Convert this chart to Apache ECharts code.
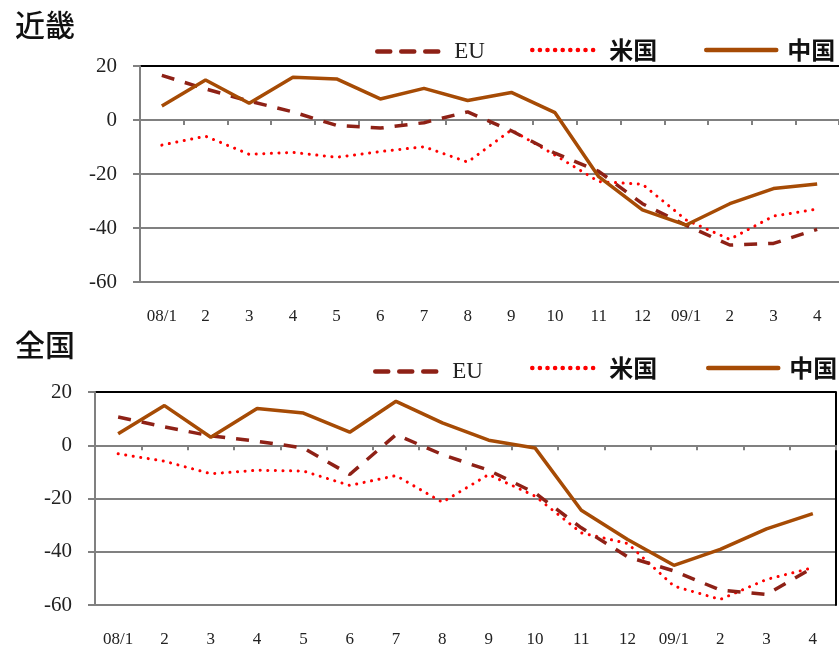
<!DOCTYPE html>
<html>
<head>
<meta charset="utf-8">
<script src="https://cdn.jsdelivr.net/npm/echarts@6/dist/echarts.min.js"></script>
<style>
  html, body { margin: 0; padding: 0; background: #fff; }
  #chart { width: 839px; height: 648px; }
</style>
</head>
<body>
<div id="chart"></div>
<script>
// 月（08/1 ～ 09/4）
const months = ["08/1", "2", "3", "4", "5", "6", "7", "8", "9", "10", "11", "12", "09/1", "2", "3", "4"];

// 近畿
const kinkiEU = [16.5, 11.5, 7, 3, -2, -3, -1, 3, -4, -12.3, -19, -31, -39, -46.3, -45.7, -40.5];
const kinkiUS = [-9.3, -6, -12.7, -12, -13.8, -11.7, -9.9, -15.6, -3.7, -13, -22.8, -23.8, -37, -44.2, -35.6, -33];
const kinkiCN = [5.2, 14.8, 6.2, 15.8, 15.2, 7.8, 11.7, 7.2, 10.2, 2.7, -21, -33.3, -38.9, -31, -25.4, -23.7];

// 全国
const zenkokuEU = [10.6, 6.9, 3.5, 1.5, -1, -11, 4, -3.5, -9.4, -17.9, -31, -41.9, -47.2, -54.4, -56, -46];
const zenkokuUS = [-3.2, -6, -10.7, -9.4, -9.7, -15.1, -11.4, -21.4, -11, -19.1, -32.9, -36.9, -52.9, -57.9, -50.4, -46];
const zenkokuCN = [4.3, 14.9, 3, 13.8, 12.1, 4.9, 16.5, 8.4, 1.9, -1, -24.4, -35.4, -45.1, -39.1, -31.4, -25.7];

const yTicks = { min: -60, max: 20, interval: 20 };

const colEU = "#8E2116";
const colUS = "#FF0000";
const colCN = "#A64B05";
const serif = "'Liberation Serif', 'DejaVu Serif', serif";
const cjk = "'Noto Sans CJK JP', sans-serif";

const chart = echarts.init(document.getElementById("chart"));

function xAxisFor(gi) {
  return {
    type: "category",
    gridIndex: gi,
    data: months,
    boundaryGap: true,
    axisLine: { lineStyle: { color: "#808080", width: 2 } },
    axisTick: { show: true, length: 5, lineStyle: { color: "#808080", width: 2 } },
    axisLabel: { color: "#222", fontFamily: serif, fontSize: 17, margin: 26, interval: 0 },
  };
}

function yAxisFor(gi) {
  return {
    type: "value",
    gridIndex: gi,
    min: yTicks.min,
    max: yTicks.max,
    interval: yTicks.interval,
    axisLine: { show: true, lineStyle: { color: "#808080", width: 2 } },
    axisTick: { show: true, inside: false, length: 7, lineStyle: { color: "#808080", width: 2 } },
    axisLabel: { color: "#222", fontFamily: serif, fontSize: 21, margin: 23 },
    splitLine: {
      lineStyle: { color: ["#808080", "#808080", "#808080", "#808080", "#000"], width: 2 },
    },
  };
}

function seriesFor(gi, eu, us, cn) {
  const base = { type: "line", xAxisIndex: gi, yAxisIndex: gi, symbol: "none", silent: true, animation: false };
  return [
    Object.assign({}, base, {
      name: "EU",
      data: eu,
      lineStyle: { color: colEU, width: 3.5, type: [13, 11] },
      itemStyle: { color: colEU },
      z: 3,
    }),
    Object.assign({}, base, {
      name: "米国",
      data: us,
      lineStyle: { color: colUS, width: 3, type: [0.1, 7.5], cap: "round" },
      itemStyle: { color: colUS },
      z: 2,
    }),
    Object.assign({}, base, {
      name: "中国",
      data: cn,
      lineStyle: { color: colCN, width: 3.5 },
      itemStyle: { color: colCN },
      z: 4,
    }),
  ];
}

function legendItem(name, left, top, lineW, textStyle) {
  return {
    data: [{ name: name, textStyle: textStyle }],
    left: left,
    top: top,
    itemWidth: lineW,
    itemHeight: 14,
    itemGap: 0,
    selectedMode: false,
    padding: 0,
    itemStyle: { opacity: 0 },
    lineStyle: { width: 4.5, cap: "round" },
  };
}

const euText = { fontFamily: serif, fontSize: 23, color: "#222", padding: [0, 0, 0, 2] };
const cjkText = { fontFamily: cjk, fontSize: 24, fontWeight: "bold", color: "#111", padding: [0, 0, 0, 6] };

chart.setOption({
  animation: false,
  title: [
    { text: "近畿", left: 10, top: 5, textStyle: { fontFamily: cjk, fontSize: 30, fontWeight: 500, color: "#111" } },
    { text: "全国", left: 10, top: 325, textStyle: { fontFamily: cjk, fontSize: 30, fontWeight: 500, color: "#111" } },
  ],
  legend: [
    legendItem("EU", 375, 40, 70, euText),
    legendItem("米国", 530, 38, 66, cjkText),
    legendItem("中国", 704, 38, 70, cjkText),
    legendItem("EU", 373, 360, 70, euText),
    legendItem("米国", 530, 356, 66, cjkText),
    legendItem("中国", 706, 356, 70, cjkText),
  ],
  grid: [
    { left: 140, top: 66, width: 701, height: 216 },
    { left: 95, top: 392, width: 741, height: 214 },
  ],
  xAxis: [xAxisFor(0), xAxisFor(1)],
  yAxis: [
    yAxisFor(0),
    yAxisFor(1),
    {
      type: "value",
      gridIndex: 1,
      position: "right",
      min: yTicks.min,
      max: yTicks.max,
      interval: yTicks.interval,
      axisLine: { show: true, lineStyle: { color: "#000", width: 2 } },
      axisTick: { show: false },
      axisLabel: { show: false },
      splitLine: { show: false },
    },
  ],
  series: [].concat(
    seriesFor(0, kinkiEU, kinkiUS, kinkiCN),
    seriesFor(1, zenkokuEU, zenkokuUS, zenkokuCN)
  ),
});
</script>
</body>
</html>
